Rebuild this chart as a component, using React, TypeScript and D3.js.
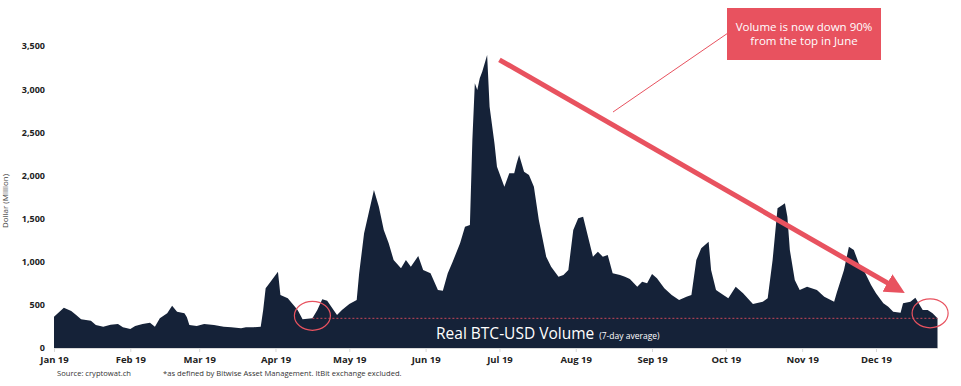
import React from 'react';
import { select, scaleUtc, scaleLinear, area, axisBottom, axisLeft, utcFormat, format, curveLinear } from 'd3';

// 7-day average of real BTC-USD volume, $M
const dates = [
  '2019-01-01', '2019-01-05', '2019-01-08', '2019-01-10', '2019-01-12', '2019-01-16', '2019-01-18', '2019-01-21',
  '2019-01-24', '2019-01-27', '2019-01-29', '2019-02-01', '2019-02-03', '2019-02-06', '2019-02-09', '2019-02-11',
  '2019-02-13', '2019-02-16', '2019-02-18', '2019-02-20', '2019-02-23', '2019-02-24', '2019-02-25', '2019-02-28',
  '2019-03-03', '2019-03-07', '2019-03-11', '2019-03-14', '2019-03-18', '2019-03-20', '2019-03-23', '2019-03-26',
  '2019-03-27', '2019-03-28', '2019-03-30', '2019-04-02', '2019-04-03', '2019-04-06', '2019-04-10', '2019-04-12',
  '2019-04-16', '2019-04-18', '2019-04-20', '2019-04-22', '2019-04-26', '2019-04-28', '2019-05-01', '2019-05-04',
  '2019-05-05', '2019-05-07', '2019-05-11', '2019-05-13', '2019-05-15', '2019-05-17', '2019-05-19', '2019-05-22',
  '2019-05-24', '2019-05-26', '2019-05-29', '2019-05-31', '2019-06-03', '2019-06-06', '2019-06-08', '2019-06-10',
  '2019-06-12', '2019-06-15', '2019-06-17', '2019-06-19', '2019-06-20', '2019-06-21', '2019-06-22', '2019-06-23',
  '2019-06-24', '2019-06-26', '2019-06-27', '2019-06-29', '2019-06-30', '2019-07-03', '2019-07-05', '2019-07-07',
  '2019-07-08', '2019-07-09', '2019-07-11', '2019-07-13', '2019-07-15', '2019-07-17', '2019-07-20', '2019-07-22',
  '2019-07-25', '2019-07-27', '2019-07-29', '2019-07-31', '2019-08-02', '2019-08-04', '2019-08-06', '2019-08-08',
  '2019-08-10', '2019-08-12', '2019-08-14', '2019-08-16', '2019-08-19', '2019-08-21', '2019-08-23', '2019-08-26',
  '2019-08-28', '2019-08-30', '2019-09-01', '2019-09-03', '2019-09-06', '2019-09-09', '2019-09-12', '2019-09-15',
  '2019-09-17', '2019-09-19', '2019-09-21', '2019-09-24', '2019-09-25', '2019-09-27', '2019-09-30', '2019-10-02',
  '2019-10-05', '2019-10-08', '2019-10-12', '2019-10-16', '2019-10-18', '2019-10-20', '2019-10-22', '2019-10-24',
  '2019-10-25', '2019-10-26', '2019-10-27', '2019-10-29', '2019-10-31', '2019-11-03', '2019-11-07', '2019-11-10',
  '2019-11-14', '2019-11-15', '2019-11-18', '2019-11-20', '2019-11-22', '2019-11-24', '2019-11-26', '2019-11-29',
  '2019-12-01', '2019-12-04', '2019-12-06', '2019-12-08', '2019-12-11', '2019-12-12', '2019-12-15', '2019-12-17',
  '2019-12-20', '2019-12-22', '2019-12-24', '2019-12-26',
];
const volume = [
  363, 467, 429, 382, 333, 317, 267, 247,
  270, 278, 240, 220, 255, 278, 293, 247,
  344, 402, 490, 421, 402, 356, 267, 255,
  278, 267, 247, 240, 228, 240, 240, 247,
  440, 692, 768, 884, 614, 576, 440, 333,
  344, 440, 564, 548, 382, 440, 510, 556,
  866, 1329, 1831, 1638, 1368, 1213, 1020, 924,
  1020, 942, 1066, 904, 866, 672, 664, 866,
  1000, 1213, 1406, 1425, 2411, 3068, 2990, 3126,
  3203, 3396, 2797, 2367, 2101, 1870, 2025, 2025,
  2141, 2237, 2044, 2005, 1870, 1484, 1058, 942,
  826, 846, 904, 1368, 1503, 1522, 1290, 1058,
  1116, 1058, 1078, 866, 846, 826, 800, 710,
  768, 750, 858, 808, 692, 614, 556, 595,
  614, 1020, 1155, 1232, 904, 672, 614, 576,
  710, 634, 510, 537, 576, 1020, 1619, 1657,
  1677, 1522, 1136, 788, 672, 710, 672, 595,
  537, 634, 904, 1174, 1136, 982, 904, 730,
  634, 518, 479, 421, 409, 518, 537, 583,
  440, 440, 402, 344,
];
const yTicks = [0, 500, 1000, 1500, 2000, 2500, 3000, 3500];
const monthTicks = ['2019-01-01', '2019-02-01', '2019-03-01', '2019-04-01', '2019-05-01', '2019-06-01',
  '2019-07-01', '2019-08-01', '2019-09-01', '2019-10-01', '2019-11-01', '2019-12-01'];

// annotation anchors (in data terms)
const arrowFrom = ['2019-07-01', 3340];
const arrowTo = ['2019-12-12', 650];
const lowLevel = 344;
const lowStart = '2019-04-16';
const lowEnd = '2019-12-26';
const circles = [['2019-04-16', 373], ['2019-12-23', 402]];

const NAVY = '#152238';
const RED = '#e8525f';
const FONT = '"Open Sans", "Noto Sans", sans-serif';

export default function App() {
  const svgRef = React.useRef(null);
  const W = 961;
  const H = 386;

  React.useEffect(() => {
    const svg = select(svgRef.current);
    svg.selectAll('*').remove();

    const parse = (s) => new Date(s + 'T00:00:00Z');
    const data = dates.map((d, i) => ({ date: parse(d), value: volume[i] }));

    const x = scaleUtc()
      .domain([parse('2019-01-01'), parse('2019-12-26')])
      .range([54, 937.5]);
    const y = scaleLinear().domain([0, 3500]).range([348, 46]);

    // area
    const areaGen = area()
      .x((d) => x(d.date))
      .y0(y(0))
      .y1((d) => y(d.value))
      .curve(curveLinear);
    svg.append('path').datum(data).attr('d', areaGen).attr('fill', NAVY);

    // x axis
    const xAxis = axisBottom(x)
      .tickValues(monthTicks.map(parse))
      .tickFormat(utcFormat('%b %y'))
      .tickSize(4)
      .tickSizeOuter(0)
      .tickPadding(4);
    const gx = svg.append('g').attr('transform', `translate(0,${y(0)})`).call(xAxis);
    gx.select('.domain').attr('stroke', '#d9d9d9');
    gx.selectAll('.tick line').attr('stroke', '#d9d9d9');
    gx.selectAll('.tick text')
      .attr('fill', '#222')
      .style('font-family', FONT)
      .style('font-size', '9.5px')
      .style('font-weight', 700);

    // y axis
    const yAxis = axisLeft(y).tickValues(yTicks).tickFormat(format(',')).tickSize(0).tickPadding(5);
    const gy = svg.append('g').attr('transform', 'translate(50,0)').call(yAxis);
    gy.select('.domain').remove();
    gy.selectAll('.tick text')
      .attr('fill', '#222')
      .style('font-family', FONT)
      .style('font-size', '9px')
      .style('font-weight', 700);

    svg.append('text')
      .attr('transform', `translate(8,${(y(0) + y(3500)) / 2 + 4}) rotate(-90)`)
      .attr('text-anchor', 'middle')
      .attr('fill', '#444')
      .style('font-family', FONT)
      .style('font-size', '8px')
      .text('Dollar (Million)');

    // low-level dashed line + circles
    svg.append('line')
      .attr('x1', x(parse(lowStart))).attr('x2', x(parse(lowEnd)))
      .attr('y1', y(lowLevel)).attr('y2', y(lowLevel))
      .attr('stroke', '#c8475a')
      .attr('stroke-width', 1)
      .attr('stroke-dasharray', '2,2');

    svg.selectAll('.ring')
      .data(circles)
      .join('ellipse')
      .attr('class', 'ring')
      .attr('cx', (d) => x(parse(d[0])))
      .attr('cy', (d) => y(d[1]))
      .attr('rx', 18)
      .attr('ry', 14.5)
      .attr('fill', 'none')
      .attr('stroke', RED)
      .attr('stroke-width', 1.2);

    // series label
    const lbl = svg.append('text')
      .attr('x', 436)
      .attr('y', 339)
      .attr('fill', '#fff')
      .style('font-family', FONT);
    lbl.append('tspan').style('font-size', '15.5px').text('Real BTC-USD Volume');
    lbl.append('tspan').attr('dx', 5).style('font-size', '8.5px').text('(7-day average)');

    // big arrow
    const defs = svg.append('defs');
    defs.append('marker')
      .attr('id', 'head')
      .attr('viewBox', '0 0 10 10')
      .attr('refX', 2)
      .attr('refY', 5)
      .attr('markerWidth', 4)
      .attr('markerHeight', 4)
      .attr('markerUnits', 'strokeWidth')
      .attr('orient', 'auto')
      .append('path')
      .attr('d', 'M0,0 L10,5 L0,10 Z')
      .attr('fill', RED);

    const ax1 = x(parse(arrowFrom[0]));
    const ay1 = y(arrowFrom[1]);
    const ax2 = x(parse(arrowTo[0]));
    const ay2 = y(arrowTo[1]);
    const len = Math.hypot(ax2 - ax1, ay2 - ay1);
    const shorten = 14;
    svg.append('line')
      .attr('x1', ax1).attr('y1', ay1)
      .attr('x2', ax2 - ((ax2 - ax1) / len) * shorten)
      .attr('y2', ay2 - ((ay2 - ay1) / len) * shorten)
      .attr('stroke', RED)
      .attr('stroke-width', 5)
      .attr('marker-end', 'url(#head)');

    // callout
    svg.append('line')
      .attr('x1', 613).attr('y1', 112)
      .attr('x2', 728).attr('y2', 33)
      .attr('stroke', RED)
      .attr('stroke-width', 1);
    svg.append('rect')
      .attr('x', 727).attr('y', 8)
      .attr('width', 154).attr('height', 52)
      .attr('fill', RED);
    const call = svg.append('text')
      .attr('text-anchor', 'middle')
      .attr('fill', '#fff')
      .style('font-family', FONT)
      .style('font-size', '11.5px');
    call.append('tspan').attr('x', 804).attr('y', 30.5).text('Volume is now down 90%');
    call.append('tspan').attr('x', 804).attr('y', 45).text('from the top in June');

    // footnotes
    svg.append('text')
      .attr('x', 57).attr('y', 376)
      .attr('fill', '#333')
      .style('font-family', FONT)
      .style('font-size', '7.6px')
      .text('Source: cryptowat.ch');
    svg.append('text')
      .attr('x', 163).attr('y', 376)
      .attr('fill', '#333')
      .style('font-family', FONT)
      .style('font-size', '7.6px')
      .text('*as defined by Bitwise Asset Management. ItBit exchange excluded.');
  }, []);

  return (
    <svg
      ref={svgRef}
      width={W}
      height={H}
      style={{ position: 'absolute', left: 0, top: 0, display: 'block', background: '#fff' }}
    />
  );
}
